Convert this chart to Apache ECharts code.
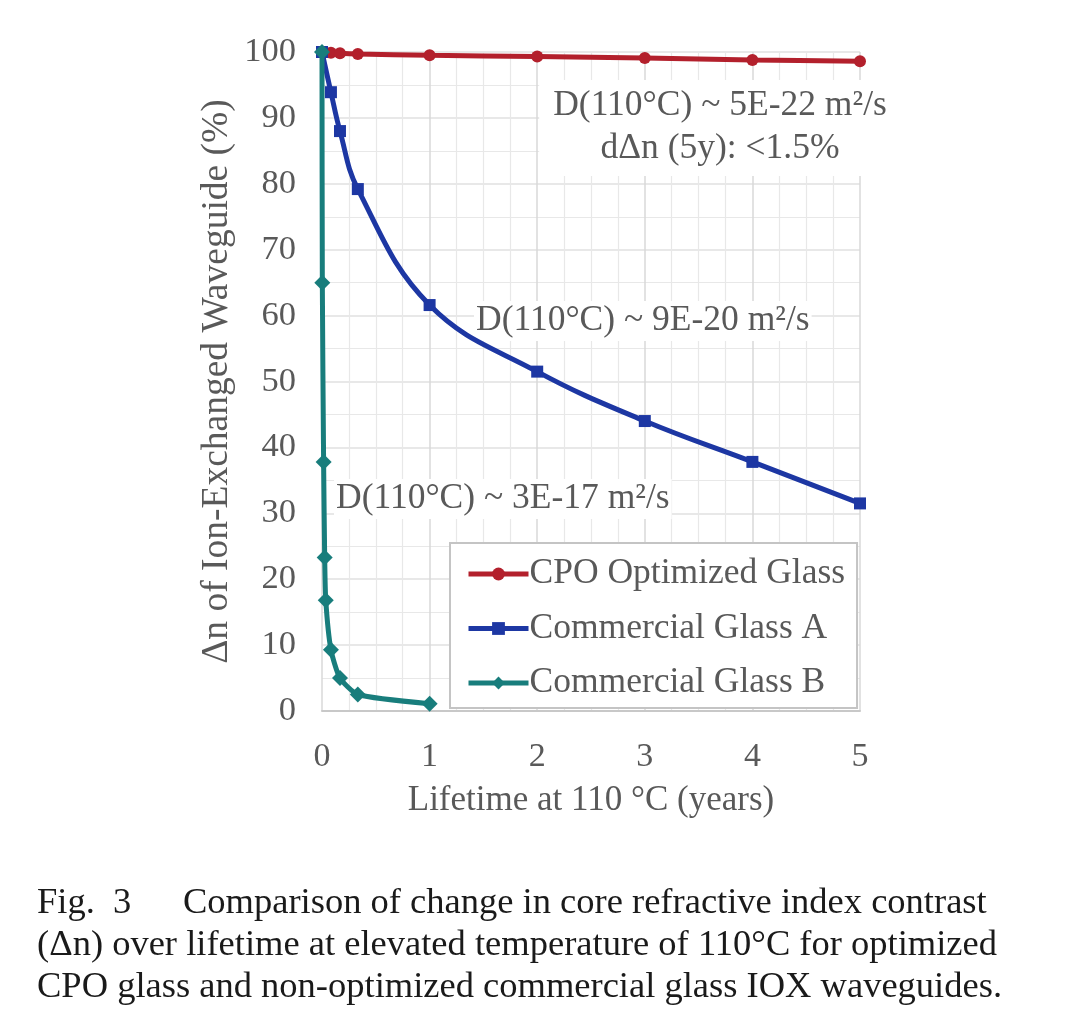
<!DOCTYPE html>
<html>
<head>
<meta charset="utf-8">
<script src="https://cdn.jsdelivr.net/npm/echarts@6/dist/echarts.min.js"></script>
<style>
  html, body { margin: 0; padding: 0; background: #fff; }
  #chart { width: 1080px; height: 1028px; }
</style>
</head>
<body>
<div id="chart"></div>
<script>
// lifetime points (years) and remaining delta-n (%)
var cpoYears = [0, 0.083, 0.167, 0.333, 1, 2, 3, 4, 5];
var cpoValues = [100, 99.9, 99.8, 99.7, 99.5, 99.3, 99.1, 98.8, 98.6];

var glassAYears = [0, 0.083, 0.167, 0.333, 1, 2, 3, 4, 5];
var glassAValues = [100, 93.9, 88.0, 79.2, 61.6, 51.5, 44.0, 37.8, 31.5];

var glassBYears = [0, 0.003, 0.015, 0.025, 0.035, 0.083, 0.167, 0.333, 1];
var glassBValues = [100, 65, 37.8, 23.3, 16.8, 9.3, 5.0, 2.5, 1.1];

var seriesNames = ['CPO Optimized Glass', 'Commercial Glass A', 'Commercial Glass B'];

var serif = '"Liberation Serif", "DejaVu Serif", serif';
var gray = '#595959';

function pairs(xs, ys) {
    var res = [];
    for (var i = 0; i < xs.length; i++) res.push([xs[i], ys[i]]);
    return res;
}

var chart = echarts.init(document.getElementById('chart'));

var option = {
    backgroundColor: '#fff',
    animation: false,
    grid: { left: 322, right: 220, top: 52, bottom: 317 },
    xAxis: {
        type: 'value',
        min: 0, max: 5, interval: 1,
        name: 'Lifetime at 110 °C (years)',
        nameLocation: 'middle',
        nameGap: 72,
        nameTextStyle: { fontFamily: serif, fontSize: 35, color: gray },
        axisLine: { show: true, lineStyle: { color: '#c8c8c8', width: 2 } },
        axisTick: { show: false },
        axisLabel: { fontFamily: serif, fontSize: 34, color: gray, margin: 29 },
        splitLine: { show: true, lineStyle: { color: '#d9d9d9', width: 1.5 } },
        minorTick: { show: false, splitNumber: 4 },
        minorSplitLine: { show: true, lineStyle: { color: '#e8e8e8', width: 1.2 } }
    },
    yAxis: {
        type: 'value',
        min: 0, max: 100, interval: 10,
        name: 'Δn of Ion-Exchanged Waveguide (%)',
        nameLocation: 'middle',
        nameGap: 86,
        nameTextStyle: { fontFamily: serif, fontSize: 37.5, color: gray },
        axisLine: { show: false },
        axisTick: { show: false },
        axisLabel: { fontFamily: serif, fontSize: 34.5, color: gray, margin: 26 },
        splitLine: { show: true, lineStyle: { color: '#e0e0e0', width: 1.5 } },
        minorTick: { show: false, splitNumber: 2 },
        minorSplitLine: { show: true, lineStyle: { color: '#e8e8e8', width: 1.2 } }
    },
    legend: {
        orient: 'vertical',
        left: 450,
        top: 543,
        backgroundColor: '#fff',
        borderColor: '#c4c4c4',
        borderWidth: 2,
        padding: [13, 12, 7, 16],
        itemWidth: 60,
        itemHeight: 16,
        itemGap: 18.5,
        lineStyle: { width: 5 },
        textStyle: { fontFamily: serif, fontSize: 35.5, color: gray, lineHeight: 36, padding: [0, 0, 0, -4] },
        data: seriesNames
    },
    graphic: [
        {
            type: 'text', z: 1, zlevel: 0,
            style: {
                text: 'D(110°C) ~ 5E-22 m²/s\ndΔn (5y): <1.5%',
                x: 720, y: 80, align: 'center',
                font: '35.5px ' + serif, fill: gray, lineHeight: 43,
                backgroundColor: '#fff', padding: [4, 14, 6, 14]
            }
        },
        {
            type: 'text', z: 1, zlevel: 0,
            style: {
                text: 'D(110°C) ~ 9E-20 m²/s',
                x: 474, y: 301,
                font: '35.5px ' + serif, fill: gray,
                backgroundColor: '#fff', padding: [2, 2, 2, 2]
            }
        },
        {
            type: 'text', z: 1, zlevel: 0,
            style: {
                text: 'D(110°C) ~ 3E-17 m²/s',
                x: 334, y: 479,
                font: '35.5px ' + serif, fill: gray,
                backgroundColor: '#fff', padding: [2, 2, 2, 2]
            }
        },
        {
            type: 'text',
            style: { text: 'Fig.  3', x: 37, y: 885, font: '36.5px ' + serif, fill: '#1a1a1a' }
        },
        {
            type: 'text',
            style: { text: 'Comparison of change in core refractive index contrast', x: 183, y: 885, font: '36.5px ' + serif, fill: '#1a1a1a' }
        },
        {
            type: 'text',
            style: { text: '(Δn) over lifetime at elevated temperature of 110°C for optimized', x: 37, y: 927, font: '36.5px ' + serif, fill: '#1a1a1a' }
        },
        {
            type: 'text',
            style: { text: 'CPO glass and non-optimized commercial glass IOX waveguides.', x: 37, y: 969, font: '36.5px ' + serif, fill: '#1a1a1a' }
        }
    ],
    series: [
        {
            name: seriesNames[0],
            type: 'line',
            z: 3,
            data: pairs(cpoYears, cpoValues),
            smooth: 0.3,
            symbol: 'circle',
            symbolSize: 12,
            itemStyle: { color: '#b3202c' },
            lineStyle: { color: '#b3202c', width: 5 }
        },
        {
            name: seriesNames[1],
            type: 'line',
            z: 3,
            data: pairs(glassAYears, glassAValues),
            smooth: 0.4,
            symbol: 'rect',
            symbolSize: 12,
            itemStyle: { color: '#1d37a3' },
            lineStyle: { color: '#1d37a3', width: 5 }
        },
        {
            name: seriesNames[2],
            type: 'line',
            z: 4,
            data: pairs(glassBYears, glassBValues),
            smooth: 0.2,
            symbol: 'diamond',
            symbolSize: 16,
            itemStyle: { color: '#187d7c' },
            lineStyle: { color: '#187d7c', width: 5 }
        }
    ]
};

chart.setOption(option);
</script>
</body>
</html>
